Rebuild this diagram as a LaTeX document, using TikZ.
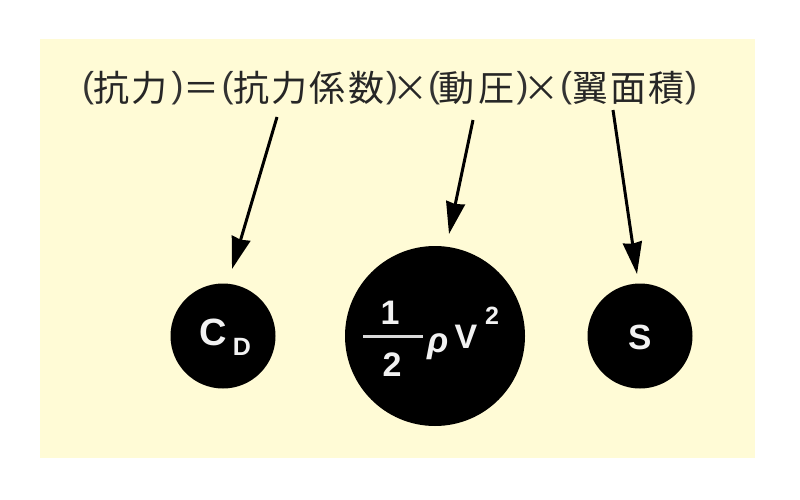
\documentclass[tikz,border=0pt]{standalone}
\usepackage{fontspec}
\setmainfont{Liberation Sans}
\newfontfamily\cjk{Noto Sans CJK JP}
\usetikzlibrary{arrows.meta}
\definecolor{bgc}{HTML}{FFFBD6}
\tikzset{
  term/.style={inner sep=0pt,anchor=base,font=\cjk\fontsize{36}{36}\selectfont,text=black!85},
  paren/.style={inner sep=0pt,anchor=base,font=\fontsize{36}{36}\selectfont,text=black!80},
  ball/.style={circle,fill=black,inner sep=0pt},
  inball/.style={inner sep=0pt,text=white!95!black,font=\bfseries\fontsize{34}{34}\selectfont},
  insmall/.style={inner sep=0pt,text=white!95!black,font=\bfseries\fontsize{25}{25}\selectfont},
  pointer/.style={line width=3pt,-{Stealth[length=32pt,width=19pt,inset=1.5pt]}},
}
\begin{document}
\begin{tikzpicture}[x=1pt,y=-1pt]
\useasboundingbox (0,0) rectangle (800,500);
\fill[bgc] (40,39) rectangle (755,458);
\node[paren] (p1) at (88,98) {(};
\node[term] (c1) at (111,102) {抗};
\node[term] (c2) at (149,102) {力};
\node[paren] (p2) at (177.5,98) {)};
\node[term] (eq) at (201.5,102) {＝};
\node[paren] (p3) at (227.5,98) {(};
\node[term] (c3) at (251,102) {抗};
\node[term] (c4) at (289,102) {力};
\node[term] (c5) at (327,102) {係};
\node[term] (c6) at (366,102) {数};
\node[paren] (p4) at (392,98) {)};
\node[term] (x1) at (410,102) {×};
\node[paren] (p5) at (434,98) {(};
\node[term] (c7) at (456,102) {動};
\node[term] (c8) at (496,102) {圧};
\node[paren] (p6) at (522.5,98) {)};
\node[term] (x2) at (541.5,102) {×};
\node[paren] (p7) at (566,98) {(};
\node[term] (c9) at (590,102) {翼};
\node[term] (c10) at (628,102) {面};
\node[term] (c11) at (666,102) {積};
\node[paren] (p8) at (691,98) {)};
\node[ball,minimum size=105pt] (cd) at (223,336) {};
\node[ball,minimum size=180pt] (q) at (435,336) {};
\node[ball,minimum size=105pt] (s) at (640,336) {};
\node[inball,font=\bfseries\fontsize{38}{38}\selectfont] (cdc) at (213,332) {C};
\node[insmall] (cdd) at (242,347) {D};
\node[inball] (one) at (390,313) {1};
\node[inball] (two) at (392,365) {2};
\node[inball,font=\bfseries\itshape\fontsize{35}{35}\selectfont] (rho) at (438,347) {ρ};
\node[inball] (v) at (466,337) {V};
\node[insmall] (sq) at (492,316) {2};
\node[inball,font=\bfseries\fontsize{35}{35}\selectfont] (sl) at (640,337) {S};
\coordinate (fa) at (363,336);
\coordinate (fb) at (423,336);
\draw[white!85!black,line width=3pt] (fa) -- (fb);
\coordinate (a1) at (277,117);
\coordinate (b1) at (232,269);
\coordinate (a2) at (473,120);
\coordinate (b2) at (449,234);
\coordinate (a3) at (613,110);
\coordinate (b3) at (637,274);
\draw[pointer] (a1) -- (b1);
\draw[pointer] (a2) -- (b2);
\draw[pointer] (a3) -- (b3);
\end{tikzpicture}
\end{document}
